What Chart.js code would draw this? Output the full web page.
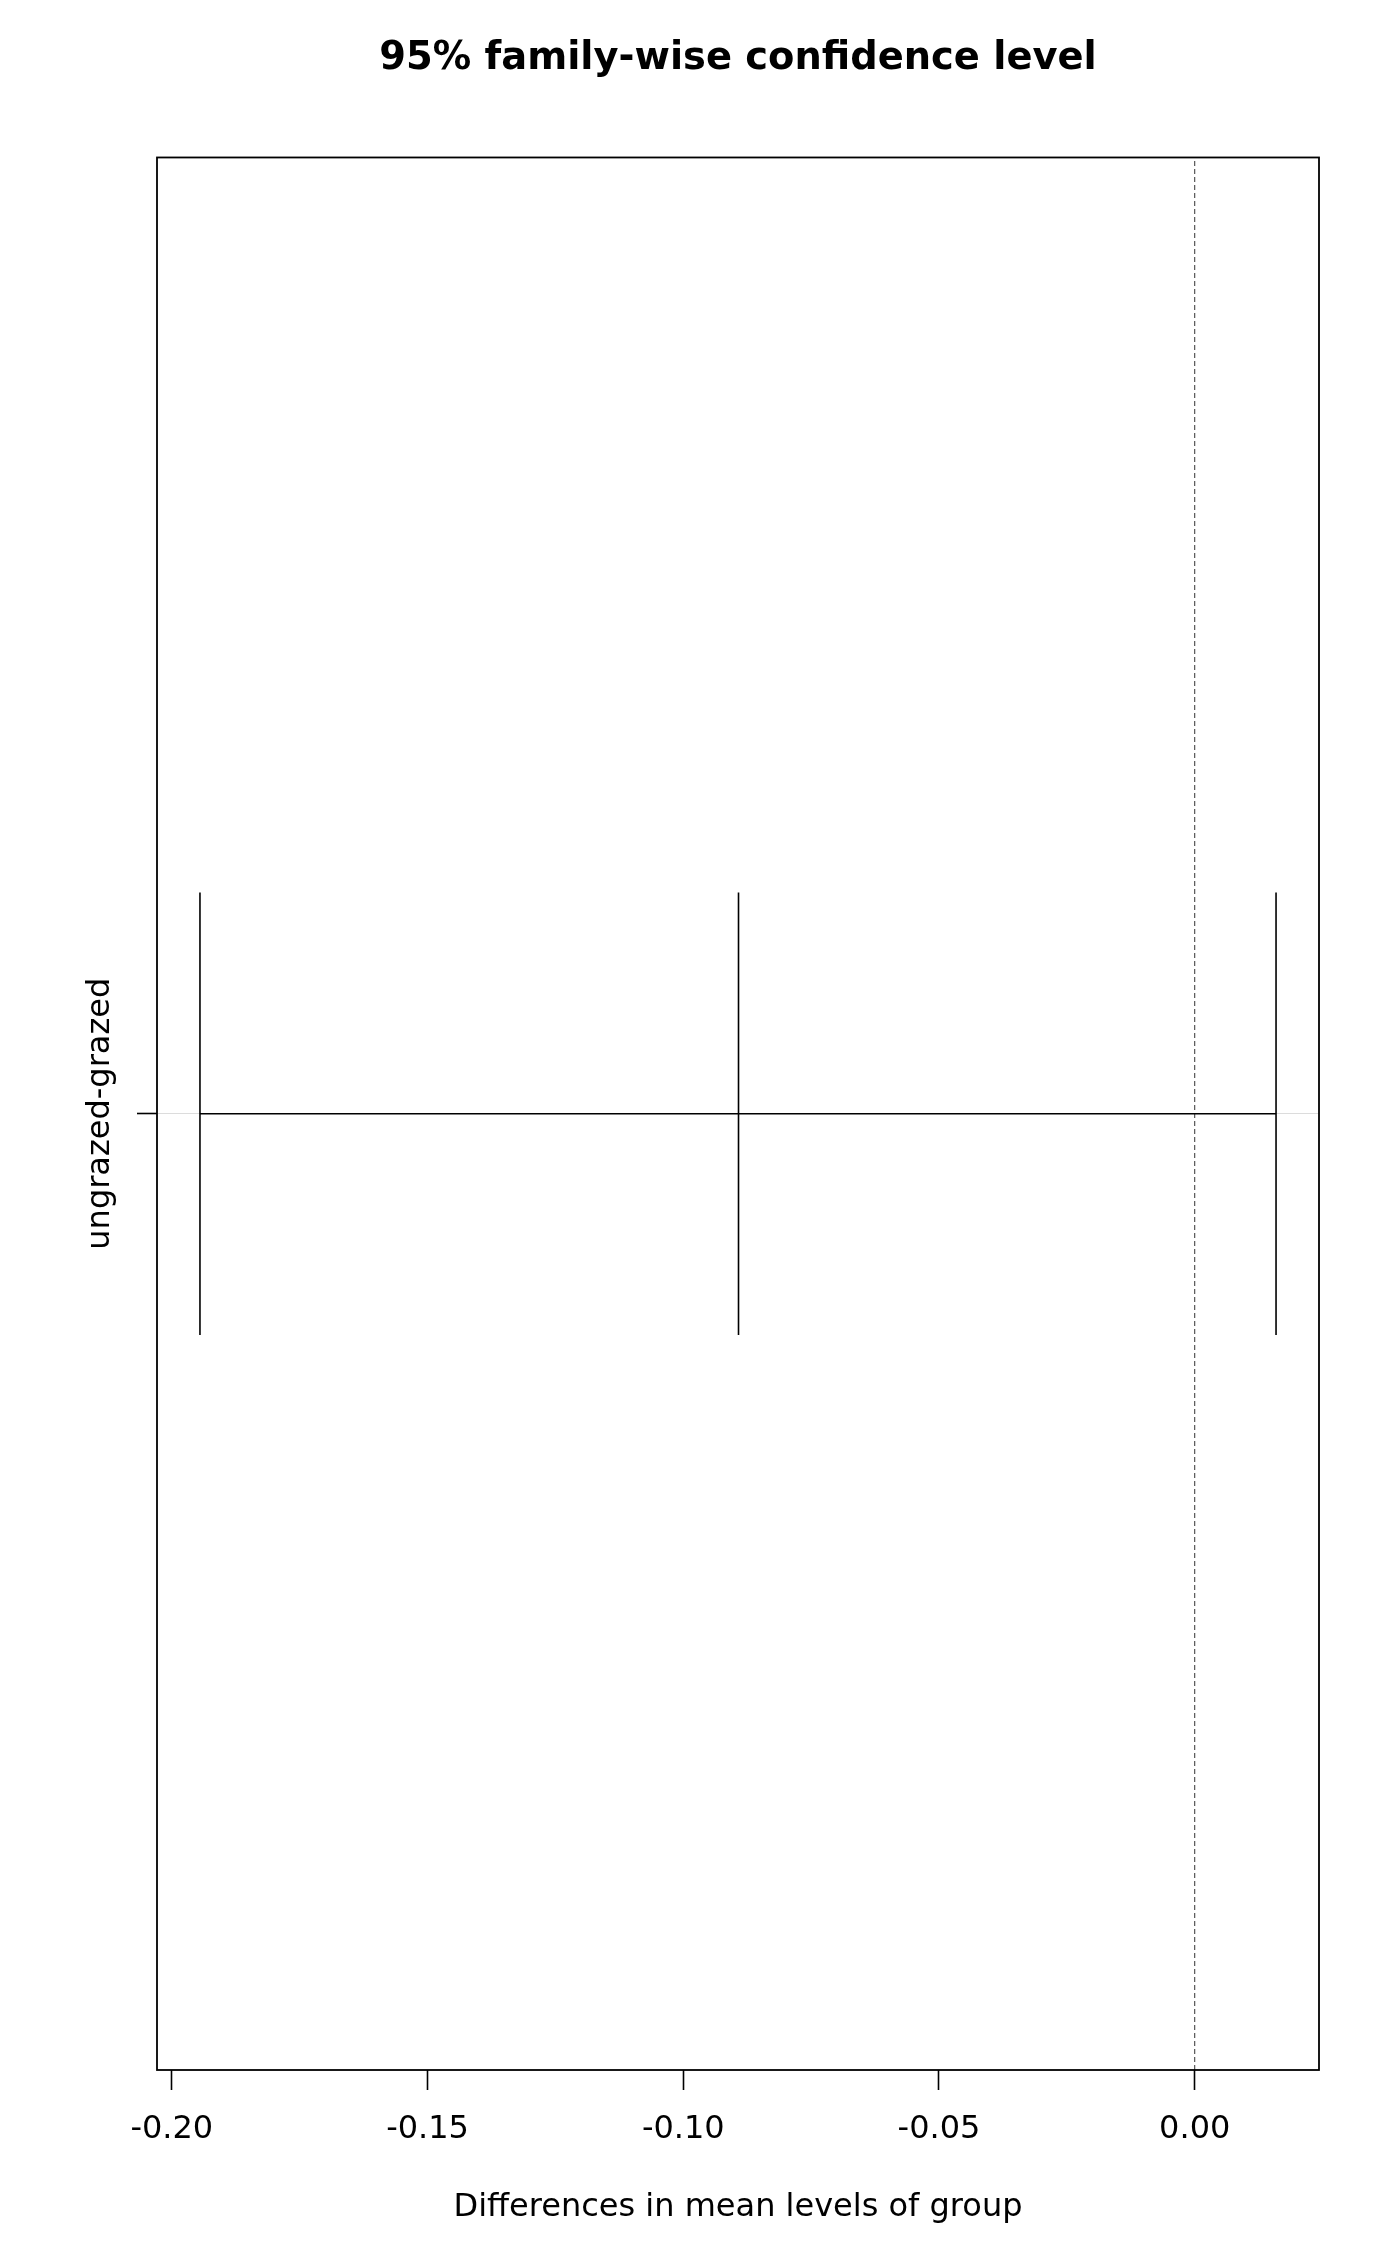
<!DOCTYPE html>
<html>
<head>
<meta charset="utf-8">
<script src="https://cdn.jsdelivr.net/npm/chart.js@4/dist/chart.umd.min.js"></script>
<style>
  html, body { margin: 0; padding: 0; background: #fff; }
  #wrap { width: 1400px; height: 2266px; position: relative; }
</style>
</head>
<body>
<div id="wrap"><canvas id="tukeyChart"></canvas></div>
<script>
// comparisons and their intervals (one row here)
const comparisons = ['ungrazed-grazed'];
const diffValues = [-0.0892];
const lowerValues = [-0.1945];
const upperValues = [0.0159];

// x axis ticks
const xTicks = [-0.20, -0.15, -0.10, -0.05, 0.00];

const xMin = -0.2029, xMax = 0.0243;
const yMin = 0.46, yMax = 1.54;
const barHalf = 0.125;

const FONT = '"DejaVu Sans", "Liberation Sans", sans-serif';

const datasets = [];

// dashed reference line at zero
datasets.push({
    data: [{ x: 0, y: yMin }, { x: 0, y: yMax }],
    borderColor: '#333',
    borderWidth: 1,
    borderDash: [5, 3],
    pointRadius: 0,
    order: 3
});

comparisons.forEach((name, i) => {
    const yPos = i + 1;
    datasets.push({
        data: [{ x: lowerValues[i], y: yPos }, { x: upperValues[i], y: yPos }],
        borderColor: '#000',
        borderWidth: 1.6,
        pointRadius: 0,
        order: 1
    });
    [lowerValues[i], diffValues[i], upperValues[i]].forEach(v => {
        datasets.push({
            data: [{ x: v, y: yPos - barHalf }, { x: v, y: yPos + barHalf }],
            borderColor: '#000',
            borderWidth: 1.6,
            pointRadius: 0,
            order: 1
        });
    });
});

const frameBox = {
    id: 'frameBox',
    afterDatasetsDraw(chart) {
        const { ctx, chartArea: a } = chart;
        ctx.save();
        ctx.strokeStyle = '#000';
        ctx.lineWidth = 1.8;
        ctx.strokeRect(a.left, a.top, a.right - a.left, a.bottom - a.top);
        ctx.restore();
    }
};

const categoryLabels = {
    id: 'categoryLabels',
    afterDraw(chart) {
        const { ctx, scales: { y } } = chart;
        ctx.save();
        ctx.font = '32px ' + FONT;
        ctx.fillStyle = '#000';
        ctx.textAlign = 'center';
        ctx.textBaseline = 'middle';
        comparisons.forEach((name, i) => {
            ctx.save();
            ctx.translate(y.right - 56, y.getPixelForValue(i + 1));
            ctx.rotate(-Math.PI / 2);
            ctx.fillText(name, 0, 0);
            ctx.restore();
        });
        ctx.restore();
    }
};

new Chart(document.getElementById('tukeyChart'), {
    type: 'line',
    data: { datasets },
    options: {
        responsive: true,
        maintainAspectRatio: false,
        animation: false,
        layout: { padding: { left: 157, right: 81, top: 0, bottom: 0 } },
        plugins: {
            legend: { display: false },
            tooltip: { enabled: false },
            title: {
                display: true,
                text: '95% family-wise confidence level',
                color: '#000',
                font: { family: FONT, size: 38.4, weight: 'bold' },
                padding: { top: 36, bottom: 75.4 }
            }
        },
        scales: {
            x: {
                type: 'linear',
                min: xMin,
                max: xMax,
                afterBuildTicks: s => { s.ticks = xTicks.map(v => ({ value: v })); },
                afterFit: s => { s.height = 196; },
                border: { display: false },
                grid: {
                    drawOnChartArea: false,
                    drawTicks: true,
                    tickLength: 20,
                    tickWidth: 1.6,
                    tickColor: '#000',
                    color: '#000'
                },
                ticks: {
                    color: '#000',
                    font: { family: FONT, size: 32 },
                    padding: 20,
                    maxRotation: 0,
                    callback: v => v.toFixed(2)
                },
                title: {
                    display: true,
                    text: 'Differences in mean levels of group',
                    color: '#000',
                    font: { family: FONT, size: 32 },
                    padding: { top: 0, bottom: 39 }
                }
            },
            y: {
                type: 'linear',
                min: yMin,
                max: yMax,
                afterBuildTicks: s => { s.ticks = comparisons.map((c, i) => ({ value: i + 1 })); },
                afterFit: s => { s.width = 0; },
                border: { display: false },
                grid: {
                    drawOnChartArea: true,
                    drawTicks: true,
                    tickLength: 20,
                    tickWidth: 1.6,
                    tickColor: '#000',
                    color: '#dcdcdc',
                    lineWidth: 1
                },
                ticks: { display: false }
            }
        }
    },
    plugins: [frameBox, categoryLabels]
});
</script>
</body>
</html>
